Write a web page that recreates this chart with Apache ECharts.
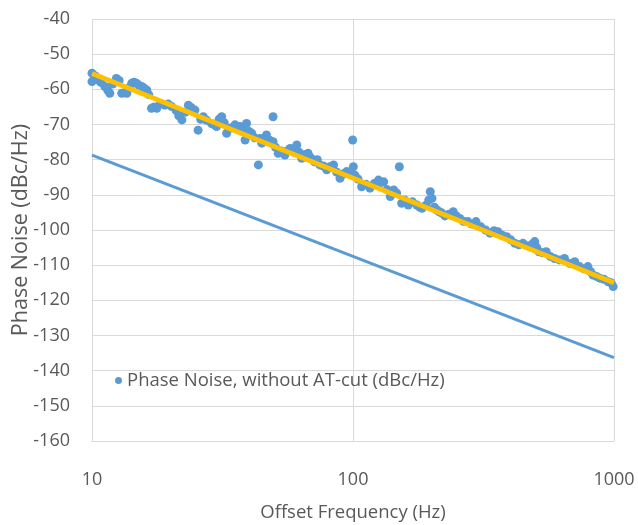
<!DOCTYPE html>
<html>
<head>
<meta charset="utf-8">
<script src="https://cdn.jsdelivr.net/npm/echarts@6/dist/echarts.min.js"></script>
<style>html,body{margin:0;padding:0;background:#fff}#c{width:638px;height:525px}</style>
</head>
<body>
<div id="c"></div>
<script>
const scatterFreq = [10,10,10.3,10.5,10.8,11.2,11.5,11.7,12.0,12.4,12.7,13.0,13.3,13.6,13.9,14.2,14.5,14.8,15.1,15.5,15.8,16.2,16.5,16.9,17.3,17.7,18.3,19.0,19.6,20.2,21.0,21.5,22.1,22.8,23.4,24.0,24.8,25.5,26.1,26.7,27.5,28.7,29.3,30.0,30.7,31.4,32.1,32.8,34.0,35.3,36.0,36.9,38.0,38.6,39.1,40.0,40.9,42.0,43.4,44.0,44.7,45.6,46.6,48.0,49.4,49.4,50.5,51.7,53.2,54.8,56.0,57.4,59.0,60.9,62.0,63.6,65.5,67.3,69.0,71.2,73.0,74.6,77.0,79.3,81.5,84.2,86.5,89.2,92.0,94.6,97.0,99.7,100.3,101.7,104.5,107.9,112.0,116.1,120.5,125.2,128.0,131.1,135.0,138.9,143.2,147.0,150.5,153.6,158.0,162.9,169.0,175.6,180.0,183.8,190.0,195.0,197.7,200.7,205.0,209.8,214.0,219.1,225.0,233.0,242.1,249.0,256.5,265.0,275.5,285.0,296.0,309.0,322.0,335.0,347.0,359.0,373.0,388.0,402.0,417.0,432.0,448.0,469.0,490.0,497.0,506.0,516.0,533.0,550.0,570.0,592.0,618.0,646.0,676.0,707.0,738.0,765.0,794.0,812.0,831.0,856.0,882.0,915.0,950.0,975.0,993.0];
const scatterDb = [-57.8,-55.4,-56.2,-57.3,-58.0,-59.2,-60.3,-61.1,-58.5,-56.9,-57.5,-61.1,-61.0,-61.1,-59.5,-58.3,-58.0,-58.3,-58.8,-59.2,-59.6,-60.2,-61.5,-65.4,-65.0,-65.4,-64.0,-64.5,-64.2,-64.9,-66.0,-67.5,-68.7,-66.5,-64.5,-65.2,-65.9,-71.6,-68.5,-67.8,-68.8,-69.7,-70.0,-70.6,-68.5,-67.8,-69.5,-72.5,-71.0,-70.1,-70.5,-70.6,-71.5,-74.4,-69.7,-72.0,-72.5,-73.8,-81.5,-74.0,-75.3,-74.0,-73.0,-74.5,-67.8,-74.9,-76.5,-78.2,-77.5,-78.7,-77.5,-76.8,-77.0,-75.8,-77.8,-79.6,-78.5,-78.2,-79.5,-80.6,-80.0,-81.5,-81.8,-82.9,-82.0,-81.5,-83.5,-85.3,-84.0,-83.4,-84.0,-74.4,-82.0,-84.4,-85.5,-87.7,-87.0,-88.1,-86.8,-85.8,-86.5,-86.3,-88.5,-90.5,-88.6,-89.5,-82.0,-92.4,-91.5,-92.9,-92.0,-92.9,-93.5,-93.8,-93.0,-91.5,-89.1,-91.0,-93.5,-94.3,-94.8,-95.2,-96.0,-95.5,-94.8,-96.0,-96.7,-97.5,-97.6,-98.3,-97.6,-99.1,-100.0,-100.9,-100.2,-100.5,-101.5,-101.9,-102.8,-103.8,-104.2,-103.8,-104.5,-103.8,-103.3,-105.0,-106.2,-106.5,-106.2,-107.5,-108.1,-108.5,-108.1,-109.5,-109.0,-110.4,-111.0,-110.4,-111.8,-112.8,-113.2,-113.7,-114.0,-114.7,-115.0,-116.1];
const fitFreq = [10, 1000];
const fitDb = [-55.5, -115];
const refFreq = [10, 1000];
const refDb = [-78.7, -136.3];
const xTicks = [10, 100, 1000];
const yTicks = [-160,-150,-140,-130,-120,-110,-100,-90,-80,-70,-60,-50,-40];

const zip = (a, b) => a.map((v, i) => [v, b[i]]);
const FONT = '"Open Sans", sans-serif';
const chart = echarts.init(document.getElementById('c'), null, {renderer: 'canvas'});
chart.setOption({
  animation: false,
  backgroundColor: '#ffffff',
  grid: {left: 92, right: 24, top: 19, bottom: 84, containLabel: false, outerBoundsMode: 'none'},
  legend: {
    left: 110, top: 366,
    data: ['Phase Noise, without AT-cut (dBc/Hz)'],
    icon: 'circle', itemWidth: 7, itemHeight: 7, itemGap: 4,
    textStyle: {color: '#595959', fontSize: 18.5, fontFamily: FONT}
  },
  xAxis: {
    type: 'log', logBase: 10, min: 10, max: 1000,
    name: 'Offset Frequency (Hz)', nameLocation: 'middle', nameGap: 62, nameMoveOverlap: false,
    nameTextStyle: {color: '#595959', fontSize: 18.5, fontFamily: FONT},
    axisLine: {show: true, lineStyle: {color: '#D9D9D9'}},
    axisTick: {show: false},
    minorTick: {show: false},
    axisLabel: {color: '#595959', fontSize: 18, fontFamily: FONT, margin: 30,
      formatter: v => xTicks.includes(Math.round(v)) ? String(Math.round(v)) : ''},
    splitLine: {show: true, lineStyle: {color: '#D9D9D9', width: 1}}
  },
  yAxis: {
    type: 'value', min: -160, max: -40, interval: 10,
    name: 'Phase Noise (dBc/Hz)', nameLocation: 'middle', nameGap: 60, nameRotate: 90, nameMoveOverlap: false,
    nameTextStyle: {color: '#595959', fontSize: 21.5, fontFamily: FONT},
    axisLine: {show: false},
    axisTick: {show: false},
    axisLabel: {color: '#595959', fontSize: 18, fontFamily: FONT, margin: 22,
      formatter: v => yTicks.includes(v) ? String(v) : ''},
    splitLine: {show: true, lineStyle: {color: '#D9D9D9', width: 1}}
  },
  series: [
    {
      name: 'Reference line', type: 'line', data: zip(refFreq, refDb),
      showSymbol: false, symbol: 'none', lineStyle: {color: '#5B9BD5', width: 3}, z: 2
    },
    {
      name: 'Phase Noise, without AT-cut (dBc/Hz)', type: 'scatter',
      data: zip(scatterFreq, scatterDb), symbolSize: 9,
      itemStyle: {color: '#5B9BD5', opacity: 1}, z: 3
    },
    {
      name: 'Fit', type: 'line', data: zip(fitFreq, fitDb),
      showSymbol: false, symbol: 'none', lineStyle: {color: '#FFC000', width: 5}, z: 4
    }
  ]
});
</script>
</body>
</html>
